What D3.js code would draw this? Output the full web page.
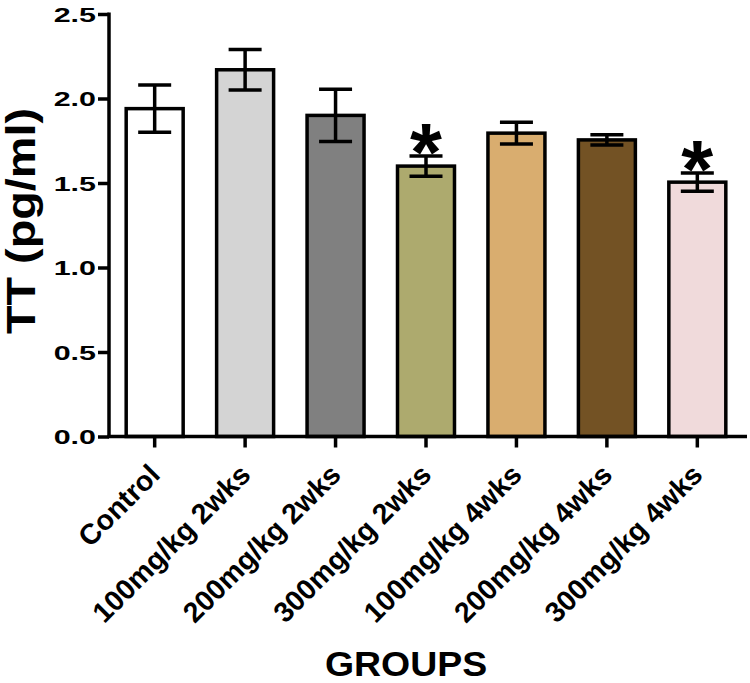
<!DOCTYPE html>
<html>
<head>
<meta charset="utf-8">
<script src="https://cdn.jsdelivr.net/npm/d3@7"></script>
<style>
  html, body { margin: 0; padding: 0; background: #fff; }
  svg { display: block; }
  text { font-family: "Liberation Sans", Arial, sans-serif; font-weight: bold; fill: #000; }
</style>
</head>
<body>
<svg id="chart" width="750" height="683"></svg>
<script>
const categories = ["Control", "100mg/kg 2wks", "200mg/kg 2wks", "300mg/kg 2wks", "100mg/kg 4wks", "200mg/kg 4wks", "300mg/kg 4wks"];
const means  = [1.94, 2.17, 1.90, 1.60, 1.795, 1.755, 1.505];
const errors = [0.14, 0.12, 0.155, 0.06, 0.064, 0.03, 0.054];
const significant = [false, false, false, true, false, false, true];
const colors = ["#ffffff", "#d4d4d4", "#808080", "#adaa6e", "#d9ad6f", "#735224", "#f0dadb"];
const yTicks = [0, 0.5, 1.0, 1.5, 2.0, 2.5];
const yTitle = "TT (pg/ml)";
const xTitle = "GROUPS";

const svg = d3.select("#chart");
const x0 = 109, x1 = 747, yBase = 436.5, yTop = 14;

const x = d3.scaleBand().domain(categories).range([x0, 743]).paddingInner(0.37).paddingOuter(0.19);
const y = d3.scaleLinear().domain([0, 2.5]).range([yBase, yTop]);

// bars
svg.append("g").selectAll("rect").data(categories).join("rect")
  .attr("x", d => x(d))
  .attr("y", (d, i) => y(means[i]))
  .attr("width", x.bandwidth())
  .attr("height", (d, i) => yBase - y(means[i]))
  .attr("fill", (d, i) => colors[i])
  .attr("stroke", "#000")
  .attr("stroke-width", 3.5);

// error bars
const eb = svg.append("g").attr("stroke", "#000").attr("stroke-width", 3.5);
categories.forEach((c, i) => {
  const cx = x(c) + x.bandwidth() / 2;
  const hi = y(means[i] + errors[i]), lo = y(means[i] - errors[i]);
  eb.append("line").attr("x1", cx).attr("x2", cx).attr("y1", hi).attr("y2", lo);
  eb.append("line").attr("x1", cx - 16.5).attr("x2", cx + 16.5).attr("y1", hi).attr("y2", hi);
  eb.append("line").attr("x1", cx - 16.5).attr("x2", cx + 16.5).attr("y1", lo).attr("y2", lo);
  if (significant[i]) {
    svg.append("text").attr("x", cx).attr("y", hi + 24)
      .attr("text-anchor", "middle").attr("font-size", 82).text("*");
  }
});

// y axis
const yAxis = svg.append("g").attr("transform", `translate(${x0},0)`)
  .call(d3.axisLeft(y).tickValues(yTicks).tickFormat(d3.format(".1f")).tickSize(11).tickSizeOuter(0).tickPadding(0));
yAxis.select(".domain").attr("stroke-width", 3.5).attr("d", `M0,${yTop - 1.5}V${yBase + 1.5}`);
yAxis.selectAll(".tick line").attr("stroke-width", 3.5);
yAxis.selectAll(".tick text").attr("font-size", 21).attr("font-family", "Liberation Sans, Arial, sans-serif")
  .attr("x", 0).attr("dy", null).attr("dominant-baseline", "central")
  .attr("transform", "translate(-13,0) scale(1.45,1)");

// x axis
const xAxis = svg.append("g").attr("transform", `translate(0,${yBase})`)
  .call(d3.axisBottom(x).tickSize(11).tickSizeOuter(0).tickFormat(() => ""));
xAxis.select(".domain").attr("stroke-width", 3.5).attr("d", `M${x0 - 1.5},0H${x1}`);
xAxis.selectAll(".tick line").attr("stroke-width", 3.5);

// x labels rotated
svg.append("g").selectAll("text").data(categories).join("text")
  .attr("transform", d => `translate(${x(d) + x.bandwidth() / 2 + 7},${yBase + 40}) rotate(-45)`)
  .attr("text-anchor", "end").attr("font-size", 28.5).text(d => d);

// titles
svg.append("text").attr("transform", `translate(35,221) rotate(-90) scale(1.17,1)`)
  .attr("text-anchor", "middle").attr("font-size", 40).text(yTitle);
svg.append("text").attr("transform", `translate(406,676) scale(1.07,1)`)
  .attr("text-anchor", "middle").attr("font-size", 35).text(xTitle);
</script>
</body>
</html>
